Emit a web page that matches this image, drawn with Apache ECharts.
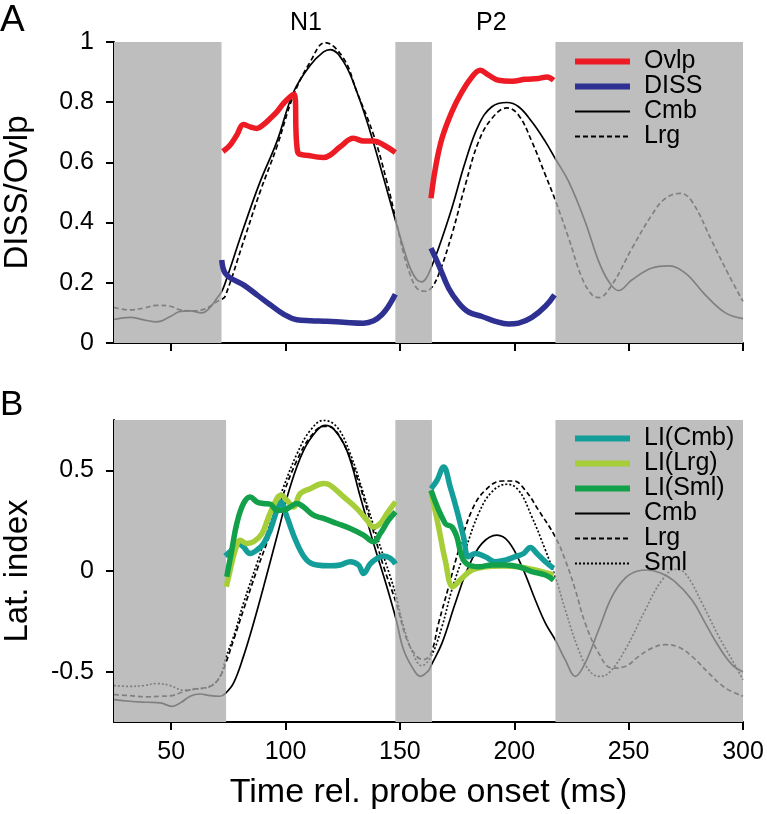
<!DOCTYPE html>
<html>
<head>
<meta charset="utf-8">
<script src="https://cdn.jsdelivr.net/npm/echarts@6/dist/echarts.min.js"></script>
<style>html,body{margin:0;padding:0;background:#fff}#c{width:767px;height:814px}</style>
</head>
<body>
<div id="c"></div>
<script>
// ---------- data ----------
const xTicks = [50, 100, 150, 200, 250, 300];
const yTicksA = [0, 0.2, 0.4, 0.6, 0.8, 1];
const yTicksB = [-0.5, 0, 0.5];
// analysis windows (white); grey elsewhere
const winA = [[72, 148], [164, 218]];
const winB = [[74, 148], [164, 218]];
const greyA = [[25, 72], [148, 164], [218, 300]];
const greyB = [[25, 74], [148, 164], [218, 300]];

// Panel A
const aCmb = [[25,0.078],[32,0.085],[38,0.077],[43.7,0.07],[49.6,0.088],[54,0.105],[58.3,0.107],[63.4,0.1],[67,0.118],[70,0.149],[72,0.17],[73.6,0.199],[81.6,0.381],[88.9,0.536],[96.2,0.669],[103.5,0.834],[110.8,0.923],[116.6,0.967],[119.5,0.975],[125.4,0.934],[131.2,0.834],[137,0.702],[142.9,0.547],[148.4,0.398],[151.6,0.315],[154.5,0.249],[157.4,0.21],[159.6,0.203],[161.5,0.215],[163.6,0.249],[166.9,0.315],[172.7,0.448],[178.6,0.602],[184.4,0.724],[190.2,0.785],[196.8,0.799],[201.9,0.785],[207.7,0.735],[213.6,0.669],[217.9,0.613],[223.8,0.536],[231,0.403],[236.9,0.271],[241.3,0.204],[245.6,0.174],[251.5,0.21],[260.2,0.249],[267.5,0.256],[274.8,0.232],[283.5,0.16],[292.3,0.1],[300,0.081]];
const aLrg = [[25,0.118],[32,0.11],[38,0.116],[43.7,0.125],[49.6,0.122],[54,0.11],[58.3,0.107],[63.4,0.11],[67,0.122],[70,0.138],[72,0.145],[73.6,0.155],[81.6,0.337],[88.9,0.503],[96.2,0.652],[103.5,0.823],[110.8,0.934],[117.3,0.998],[125.4,0.945],[131.2,0.834],[138.5,0.691],[144.3,0.536],[148.4,0.403],[151.6,0.298],[154.5,0.227],[157.4,0.182],[160.9,0.172],[163.6,0.182],[166.9,0.227],[172.7,0.36],[178.6,0.525],[184.4,0.669],[190.2,0.746],[196.8,0.781],[201.9,0.757],[207.7,0.669],[213.6,0.558],[217.9,0.475],[223.8,0.348],[229.6,0.216],[234,0.16],[236.9,0.151],[242.7,0.193],[251.5,0.315],[260.2,0.426],[266,0.48],[272.6,0.497],[277.7,0.47],[286.5,0.337],[293.7,0.227],[300,0.138]];
const aOvlp = [[72.6,0.636],[75.8,0.658],[78.7,0.691],[81.6,0.726],[84.5,0.718],[87.5,0.713],[90.4,0.726],[93.3,0.746],[96.2,0.768],[99.1,0.796],[102,0.818],[103.8,0.826],[105.3,0.635],[110.8,0.622],[116.6,0.616],[119.5,0.624],[123.9,0.652],[129.7,0.68],[134.1,0.671],[138.5,0.671],[142.9,0.658],[148,0.633],
  [156,'-'],
  [163.6,0.481],[165.5,0.58],[168.4,0.68],[172.7,0.768],[177.1,0.834],[181.5,0.884],[185.1,0.906],[188.8,0.89],[193.1,0.873],[199,0.87],[204.8,0.876],[210.6,0.879],[214.3,0.884],[217.2,0.873]];
const aDiss = [[72.1,0.276],[73.6,0.232],[77.3,0.21],[81.6,0.193],[87.5,0.16],[93.3,0.127],[99.1,0.096],[104.9,0.077],[110.8,0.074],[118.1,0.072],[125.4,0.069],[134.1,0.066],[138.5,0.074],[142.1,0.094],[145,0.122],[148,0.162],
  [156,'-'],
  [163.6,0.315],[166.9,0.26],[171.3,0.182],[175.7,0.133],[180,0.103],[185.9,0.088],[191.7,0.072],[197.5,0.063],[201.9,0.066],[207.7,0.085],[213.6,0.122],[217.6,0.16]];

// Panel B
const bCmb = [[25,-0.639],[32,-0.647],[39.4,-0.652],[45.2,-0.655],[50.3,-0.672],[54,-0.655],[58.3,-0.622],[62.7,-0.611],[67,-0.619],[71.4,-0.622],[73.9,-0.606],[77.3,-0.556],[81.6,-0.424],[86,-0.259],[90.4,-0.078],[96.2,0.17],[102,0.417],[107.9,0.599],[113.7,0.698],[117.3,0.723],[121,0.706],[126.8,0.599],[132.7,0.368],[138.5,0.137],[144.3,-0.078],[148.4,-0.243],[151.6,-0.391],[156,-0.49],[158.9,-0.523],[162.5,-0.495],[163.6,-0.47],[168.4,-0.358],[174.2,-0.16],[180,0.021],[185.9,0.137],[192.4,0.178],[197.5,0.145],[203.4,0.021],[209.2,-0.144],[213.6,-0.259],[217.9,-0.342],[222.3,-0.441],[226.7,-0.523],[231,-0.457],[236.9,-0.292],[242.7,-0.127],[248.5,-0.035],[254,0.0],[258,0.005],[264,-0.01],[270,-0.05],[277.7,-0.144],[283.5,-0.259],[289.4,-0.375],[295.2,-0.465],[300,-0.5]];
const bLrg = [[25,-0.614],[32,-0.619],[39.4,-0.625],[45.2,-0.622],[50.3,-0.619],[54.7,-0.602],[59.8,-0.586],[64.1,-0.581],[68.5,-0.564],[72.2,-0.507],[73.9,-0.457],[77.3,-0.342],[81.6,-0.193],[87.5,0.005],[93.3,0.186],[99.1,0.384],[105,0.55],[110.8,0.665],[116.6,0.718],[119.5,0.715],[125.4,0.632],[131.2,0.467],[137,0.252],[142.9,0.021],[148.4,-0.16],[153.1,-0.342],[157.4,-0.424],[160.3,-0.44],[163.6,-0.408],[166.9,-0.259],[171.3,-0.078],[175.7,0.104],[181.5,0.302],[187.3,0.401],[194.6,0.447],[199.7,0.447],[204.8,0.401],[210.6,0.302],[217.9,0.17],[222.3,0.054],[226.7,-0.094],[231,-0.259],[236.9,-0.408],[242.7,-0.482],[248.5,-0.474],[254.4,-0.424],[260.2,-0.383],[266,-0.366],[271.9,-0.378],[277.7,-0.424],[285,-0.507],[292.3,-0.581],[300,-0.622]];
const bSml = [[25,-0.569],[32,-0.573],[37.9,-0.569],[43.7,-0.559],[49.6,-0.569],[55.4,-0.592],[61.2,-0.586],[67,-0.573],[71.4,-0.523],[73.9,-0.43],[77.3,-0.325],[81.6,-0.16],[87.5,0.038],[93.3,0.236],[99.1,0.417],[105,0.582],[110.8,0.698],[116.6,0.748],[122.5,0.715],[128.3,0.582],[134.1,0.384],[140,0.17],[145.8,-0.028],[148.4,-0.127],[151.6,-0.276],[156,-0.416],[159.5,-0.47],[163.6,-0.424],[168.4,-0.276],[172.7,-0.094],[178.6,0.104],[184.4,0.285],[190.2,0.393],[196.8,0.431],[201.9,0.401],[207.7,0.269],[213.6,0.104],[217.9,-0.028],[222.3,-0.193],[228.1,-0.391],[232.5,-0.49],[236.9,-0.523],[241.3,-0.507],[248.5,-0.391],[257.3,-0.193],[264.6,-0.045],[270.4,0.008],[274.8,-0.012],[282.1,-0.16],[289.4,-0.325],[295.2,-0.441],[300,-0.54]];
const bLICmb = [[73.6,0.074],[76.5,0.104],[79.4,0.137],[81.6,0.12],[84.5,0.087],[87.5,0.104],[90.4,0.137],[93.3,0.203],[96.2,0.302],[98,0.343],[100.6,0.269],[105,0.137],[109.3,0.054],[113.7,0.03],[119.5,0.026],[123.9,0.03],[128.3,0.046],[131.9,0.03],[134.1,-0.012],[137,0.035],[140,0.063],[142.9,0.074],[145.8,0.063],[148.1,0.035],
  [156,'-'],
  [163.6,0.409],[166.2,0.45],[169.1,0.517],[172,0.417],[174.9,0.302],[177.8,0.17],[180,0.071],[182.9,0.087],[187.3,0.071],[191.7,0.046],[196.1,0.054],[200.4,0.071],[204.1,0.087],[207,0.117],[209.9,0.087],[213.6,0.046],[217.2,0.013]];
const bLILrg = [[74.1,-0.078],[75.8,0.005],[78,0.104],[80.2,0.153],[83.1,0.137],[86,0.145],[89.7,0.186],[92.6,0.269],[96.2,0.36],[98,0.376],[100.6,0.351],[103.5,0.318],[106.4,0.384],[110.8,0.409],[116.6,0.434],[119.5,0.426],[125.4,0.368],[131.2,0.31],[135.6,0.252],[138.5,0.219],[141.4,0.236],[144.3,0.285],[148.1,0.343],
  [156,'-'],
  [163.6,0.393],[166.9,0.219],[169.8,0.054],[173.2,-0.078],[177.1,-0.036],[181.5,0.005],[187.3,0.021],[194.6,0.025],[201.9,0.021],[209.2,0.005],[217.2,-0.02]];
const bLISml = [[74.3,-0.028],[76.5,0.104],[78.7,0.236],[81.6,0.335],[84.5,0.368],[87.5,0.343],[90.4,0.335],[93.3,0.332],[96.2,0.302],[99.1,0.302],[102,0.318],[105,0.335],[107.9,0.318],[112.2,0.277],[116.6,0.261],[122.5,0.236],[128.3,0.211],[134.1,0.178],[138.5,0.145],[141.4,0.186],[145,0.252],[148.1,0.294],
  [156,'-'],
  [163.6,0.401],[169.8,0.236],[172.7,0.219],[174.9,0.17],[177.1,0.071],[180,0.03],[184.4,0.021],[190.2,0.03],[196.1,0.03],[201.9,0.021],[207.7,-0.003],[213.6,-0.02],[217.2,-0.045]];

// ---------- styling ----------
const FONT = '"Liberation Sans", Arial, Helvetica, sans-serif';
const C = { ovlp:'#ed1c24', diss:'#2e3192', liCmb:'#139e9a', liLrg:'#a6ce39', liSml:'#12a04a', black:'#000', grey:'#808080', bg:'#bebebe' };
const thick = 5.5, thin = 1.7;

function axisX(gi, showLabel, name) {
  return {
    type:'value', gridIndex:gi, min:25, max:300,
    axisLine:{show:true, onZero:false, lineStyle:{color:'#000', width:2}},
    axisTick:{show:true, length:8, lineStyle:{width:2, color:'#000'}, customValues:xTicks},
    axisLabel:{show:showLabel, customValues:xTicks, fontSize:25, color:'#000', fontFamily:FONT, margin:18},
    splitLine:{show:false},
    name:name, nameLocation:'middle', nameGap:54,
    nameTextStyle:{fontSize:34, color:'#000', fontFamily:FONT}
  };
}
function axisY(gi, min, max, ticks, name) {
  return {
    type:'value', gridIndex:gi, min:min, max:max,
    axisLine:{show:true, onZero:false, lineStyle:{color:'#000', width:2}},
    axisTick:{show:true, length:8, lineStyle:{width:2, color:'#000'}, customValues:ticks},
    axisLabel:{customValues:ticks, fontSize:25, color:'#000', fontFamily:FONT, margin:20},
    splitLine:{show:false},
    name:name, nameLocation:'middle', nameGap:80,
    nameTextStyle:{fontSize:33, color:'#000', fontFamily:FONT}
  };
}
// gradient lines (black inside windows, grey outside) get their colour from visualMap
function line(name, data, xi, color, width, type, z) {
  const ls = {width:width, type:type, cap:'butt'};
  if (color) ls.color = color;
  return {
    type:'line', name:name, data:data, xAxisIndex:xi, yAxisIndex:xi,
    symbol:'none', smooth:0.4, connectNulls:false,
    lineStyle:ls, itemStyle: color ? {color:color} : {},
    z:z, silent:true, animation:false
  };
}
function bg(greys, xi) {
  return {
    type:'line', name:'bg'+xi, data:[], xAxisIndex:xi, yAxisIndex:xi, z:0, silent:true, animation:false,
    markArea:{silent:true, itemStyle:{color:C.bg}, data: greys.map(g => [{xAxis:g[0]}, {xAxis:g[1]}])}
  };
}
function pieces(win) { return win.map(w => ({gte:w[0], lte:w[1], color:'#000'})); }
function legItem(name, color, width, type) {
  return {name:name, itemStyle:{color:color, opacity:0, borderWidth:0}, lineStyle:{color:color, width:width, type:type, opacity:1}};
}

const series = [
  bg(greyA, 0),                                              //0
  line('Cmb', aCmb, 0, null, thin, 'solid', 3),              //1
  line('Lrg', aLrg, 0, null, thin, [5,3], 3),                //2
  line('Ovlp', aOvlp, 0, C.ovlp, thick, 'solid', 5),         //3
  line('DISS', aDiss, 0, C.diss, thick, 'solid', 5),         //4
  bg(greyB, 1),                                              //5
  line('Cmb', bCmb, 1, null, thin, 'solid', 3),              //6
  line('Lrg', bLrg, 1, null, thin, [5,3], 3),                //7
  line('Sml', bSml, 1, null, thin, [2,2], 3),                //8
  line('LI(Cmb)', bLICmb, 1, C.liCmb, thick, 'solid', 5),    //9
  line('LI(Lrg)', bLILrg, 1, C.liLrg, thick, 'solid', 5),    //10
  line('LI(Sml)', bLISml, 1, C.liSml, thick, 'solid', 5)     //11
];

const legText = {fontSize:25, color:'#000', fontFamily:FONT, lineHeight:25, padding:[0,0,0,9]};
const chart = echarts.init(document.getElementById('c'), null, {renderer:'canvas'});
chart.setOption({
  animation:false,
  textStyle:{fontFamily:FONT},
  grid:[
    {left:114, right:24, top:42, height:301, outerBoundsMode:'none', containLabel:false},
    {left:114, right:24, top:420, height:302, outerBoundsMode:'none', containLabel:false}
  ],
  xAxis:[axisX(0, false, ''), axisX(1, true, 'Time rel. probe onset (ms)')],
  yAxis:[axisY(0, 0, 1, yTicksA, 'DISS/Ovlp'), axisY(1, -0.75, 0.75, yTicksB, 'Lat. index')],
  visualMap:[
    {type:'piecewise', show:false, dimension:0, seriesIndex:[1,2], pieces:pieces(winA), outOfRange:{color:C.grey}},
    {type:'piecewise', show:false, dimension:0, seriesIndex:[6,7,8], pieces:pieces(winB), outOfRange:{color:C.grey}}
  ],
  legend:[
    {orient:'vertical', left:572, top:49, padding:0, itemGap:0, itemWidth:55, itemHeight:25,
     textStyle:legText, selectedMode:false,
     data:[legItem('Ovlp', C.ovlp, 6, 'solid'), legItem('DISS', C.diss, 6, 'solid'), legItem('Cmb','#000',2,'solid'), legItem('Lrg','#000',2,[5,3])]},
    {orient:'vertical', left:572, top:426, padding:0, itemGap:0, itemWidth:55, itemHeight:25,
     textStyle:legText, selectedMode:false,
     data:[legItem('LI(Cmb)', C.liCmb, 6, 'solid'), legItem('LI(Lrg)', C.liLrg, 6, 'solid'), legItem('LI(Sml)', C.liSml, 6, 'solid'),
           legItem('Cmb','#000',2,'solid'), legItem('Lrg','#000',2,[5,3]), legItem('Sml','#000',2,[2,2])]}
  ],
  graphic:[
    {type:'text', left:0, top:2, style:{text:'A', fontSize:37, fontFamily:FONT, fill:'#000'}},
    {type:'text', left:0, top:388, style:{text:'B', fontSize:35, fontFamily:FONT, fill:'#000'}},
    {type:'text', left:290, top:11, style:{text:'N1', fontSize:25, fontFamily:FONT, fill:'#000'}},
    {type:'text', left:476, top:11, style:{text:'P2', fontSize:25, fontFamily:FONT, fill:'#000'}}
  ],
  series:series
});
</script>
</body>
</html>
